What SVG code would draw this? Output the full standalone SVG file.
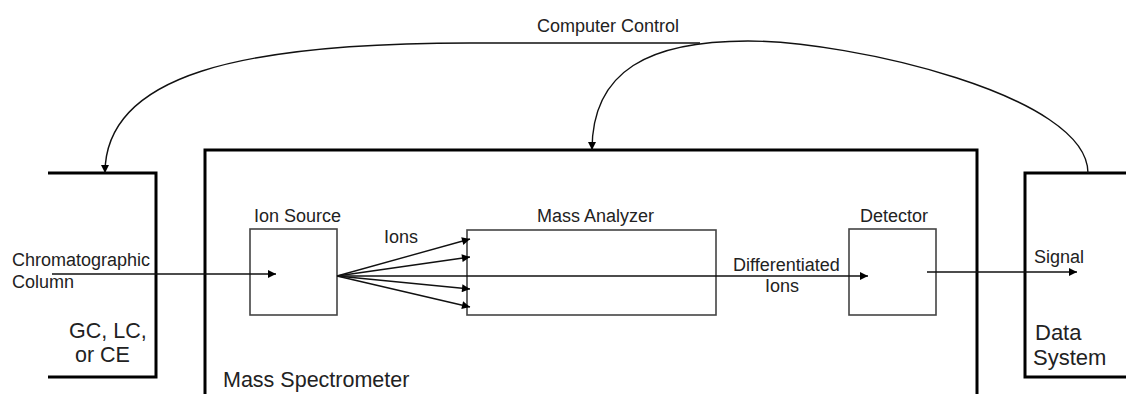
<svg xmlns="http://www.w3.org/2000/svg" width="1126" height="394" viewBox="0 0 1126 394">
<style>
.big{fill:none;stroke:#000;stroke-width:3}
.small{fill:#fff;stroke:#444;stroke-width:1.6}
.con{fill:none;stroke:#111;stroke-width:1.4}
text{font-family:"Liberation Sans",Arial,sans-serif;fill:#222}
.t18{font-size:18px}
.t21{font-size:21.5px}
</style>
<defs>
<marker id="ah" viewBox="0 0 10 10" refX="10" refY="5" markerWidth="10" markerHeight="8" markerUnits="userSpaceOnUse" orient="auto">
<path d="M0,0 L10,5 L0,10 z" fill="#000"/>
</marker>
</defs>
<rect width="1126" height="394" fill="#fff"/>
<g id="gc">
<path class="big" d="M48 173 H156 V377 H48"/>
<text class="t21" x="69" y="338">GC, LC,</text>
<text class="t21" x="75" y="362">or CE</text>
</g>
<g id="ms">
<path class="big" d="M205 396 V150 H977 V396"/>
<text class="t21" x="223" y="387">Mass Spectrometer</text>
</g>
<g id="ds">
<path class="big" d="M1128 173 H1025 V377 H1128"/>
<text class="t21" x="1035" y="340" style="font-size:22px">Data</text>
<text class="t21" x="1033" y="365" style="font-size:22px">System</text>
</g>
<g id="ionsource">
<rect class="small" x="250" y="229" width="87" height="86"/>
<text class="t18" x="254" y="222">Ion Source</text>
</g>
<g id="analyzer">
<rect class="small" x="467" y="230" width="249" height="85"/>
<text class="t18" x="537" y="222">Mass Analyzer</text>
</g>
<g id="detector">
<rect class="small" x="849" y="229" width="87" height="86"/>
<text class="t18" x="860" y="222">Detector</text>
</g>
<g id="connectors">
<path class="con" d="M52 274 H276" marker-end="url(#ah)"/>
<path class="con" d="M337 276 H868" marker-end="url(#ah)"/>
<path class="con" d="M337 276 L470 239" marker-end="url(#ah)"/>
<path class="con" d="M337 276 L470 257" marker-end="url(#ah)"/>
<path class="con" d="M337 276 L470 289" marker-end="url(#ah)"/>
<path class="con" d="M337 276 L470 307" marker-end="url(#ah)"/>
<path class="con" d="M927 272 H1077" marker-end="url(#ah)"/>
<path class="con" d="M1088 173 C1088 95 850 41 748 41 C650 41 592 70 592 150" marker-end="url(#ah)"/>
<path class="con" d="M700 43 L470 43 C240 43 105 75 105 173" marker-end="url(#ah)"/>
<text class="t18" x="537" y="32">Computer Control</text>
<text class="t18" x="12" y="266">Chromatographic</text>
<text class="t18" x="12" y="288">Column</text>
<text class="t18" x="384" y="243">Ions</text>
<text class="t18" x="733" y="271">Differentiated</text>
<text class="t18" x="765" y="292">Ions</text>
<text class="t18" x="1034" y="263">Signal</text>
</g>
</svg>
